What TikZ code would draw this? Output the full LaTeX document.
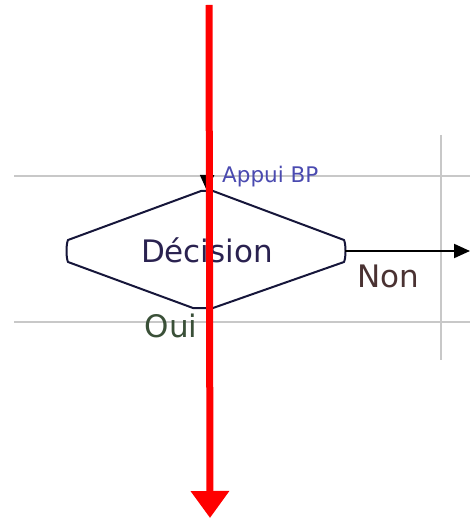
\documentclass[tikz,border=0pt]{standalone}
\usepackage{fontspec}
\setmainfont{DejaVu Sans}
\usetikzlibrary{arrows.meta}
\definecolor{gridgray}{HTML}{C8C8C8}
\definecolor{shapeline}{HTML}{16163A}
\definecolor{dectext}{HTML}{2A2250}
\definecolor{nontext}{HTML}{4A3232}
\definecolor{ouitext}{HTML}{3A5038}
\definecolor{bptext}{HTML}{4A4AB0}
\definecolor{bigred}{HTML}{FF0000}
\tikzset{
  gridline/.style={draw=gridgray, line width=1.6},
  shapeborder/.style={draw=shapeline, line width=2, line join=round},
  flow/.style={draw=black, line width=2, -{Triangle[width=14,length=16]}},
  bigtext/.style={font=\fontsize{31}{36}\selectfont, inner sep=0pt},
  smalltext/.style={font=\fontsize{21.5}{25}\selectfont, inner sep=0pt},
  redarrow/.style={draw=bigred, line width=7, -{Triangle[width=37,length=27]}}
}
\begin{document}
\begin{tikzpicture}[x=1pt,y=-1pt]
\useasboundingbox (0,0) rectangle (470,518);
% grid lines
\draw[gridline] (14,176) -- (470,176);
\draw[gridline] (14,322) -- (470,322);
\draw[gridline] (441,135) -- (441,360);
% decision shape
\draw[shapeborder] (68,240) -- (201,191) -- (213,191) -- (344,240)
  .. controls (346,244) and (346,258) .. (344,262)
  -- (213,308) -- (193,308) -- (68,262)
  .. controls (66,258) and (66,244) .. (68,240) -- cycle;
\node[bigtext, text=dectext] (dec) at (207,250) {Décision};
\coordinate (dtop) at (207,191);
\coordinate (dright) at (345,251);
\coordinate (src) at (208,12);
\coordinate (out) at (470,251);
% connectors
\draw[flow] (src) -- (dtop);
\draw[flow] (dright) -- (out);
% labels
\node[smalltext, text=bptext, anchor=west] (bp) at (222,177) {Appui BP};
\node[bigtext, text=nontext] (non) at (388,276) {Non};
\node[bigtext, text=ouitext] (oui) at (171,326) {Oui};
% red arrow
\coordinate (rtop) at (209,5);
\coordinate (rbot) at (210,518);
\draw[redarrow] (rtop) -- (rbot);
\end{tikzpicture}
\end{document}
